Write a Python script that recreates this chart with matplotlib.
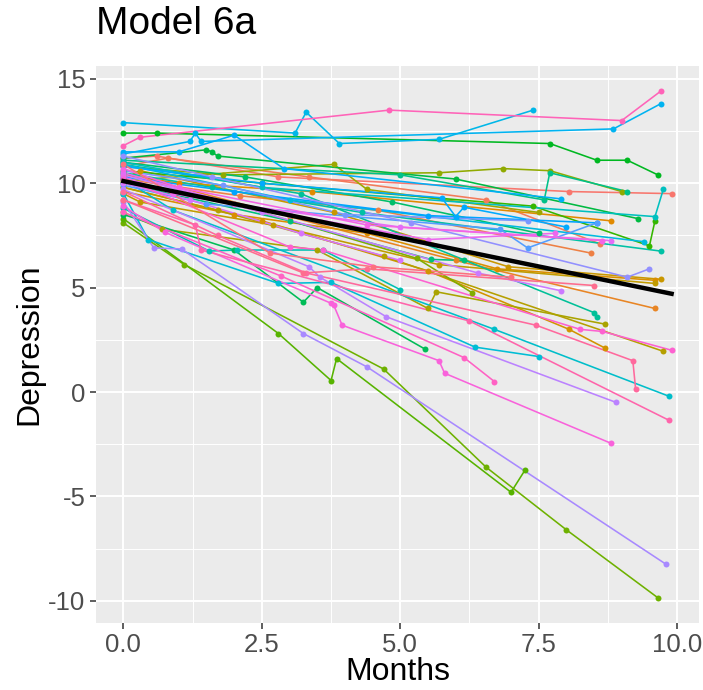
import numpy as np
import matplotlib
matplotlib.use("Agg")
import matplotlib.pyplot as plt

plt.rcParams['font.family'] = ['Liberation Sans', 'DejaVu Sans']

# one list per subject, ordered by colour
months = [
    [0, 0.6, 2.8, 8.05, 9.9],
    [0, 0.8, 3.35, 6.55, 8.6],
    [0, 2.1, 4.6, 8.45],
    [0, 3.0, 6.0, 9.6],
    [0, 1.0, 3.4, 8.8],
    [0, 2.0, 4.4, 6.75, 9.6],
    [0, 2.5, 5.5, 8.05, 8.7],
    [0, 0.3, 3.8, 6.95, 9.7],
    [0, 0.3, 2.7, 5.7, 9.6],
    [0, 1.7, 4.7, 9.75],
    [0, 0.7, 3.5, 5.5, 5.65, 8.7],
    [0, 3.8, 4.4, 7.5],
    [0, 1.8, 5.7, 6.85, 7.7, 9.0],
    [0, 2.0, 5.3, 6.3],
    [0, 1.1, 4.7, 6.55, 8.0, 9.65],
    [0, 2.8, 3.75, 3.85, 7.0, 7.25],
    [0, 2.5, 7.4, 9.5, 9.6],
    [0, 0.6, 7.7, 8.55, 9.1, 9.65],
    [0, 1.5, 1.6, 1.7, 6.0, 9.3],
    [0, 2.0, 3.25, 3.5, 5.45],
    [0, 2.2, 4.85, 7.5],
    [0, 3.0, 5.55, 6.15],
    [0, 5.0, 7.6, 7.7, 9.1],
    [0, 3.2, 8.5, 8.55],
    [0, 1.6, 4.3, 9.7],
    [0, 1.55, 2.05, 3.6, 5.0],
    [0, 2.5, 9.6, 9.75],
    [0, 0.9, 6.7, 9.85],
    [0, 0.45, 2.8, 3.75, 6.35, 7.5],
    [0, 3.0, 9.4],
    [0, 3.1, 3.3, 3.9, 5.7, 7.4],
    [0, 1.2, 1.3, 1.4, 8.85, 9.7],
    [0, 1.0, 2.0, 2.9, 7.9],
    [0, 2.5, 5.75, 6.0, 6.15, 8.0],
    [0, 2.0, 5.5, 8.55],
    [0, 1.5, 6.8, 7.3, 8.55],
    [0, 1.8, 4.0, 7.3],
    [0, 1.6, 5.2, 9.1, 9.5],
    [0, 0.55, 1.05, 3.25, 4.4, 9.8],
    [0, 3.35, 3.55, 4.75, 8.9],
    [0, 2.5, 6.4, 7.9],
    [0, 1.2, 3.2, 5.0],
    [0, 2.0, 5.0, 8.8],
    [0, 0.9, 3.0, 5.5, 7.8],
    [0, 1.0, 4.4, 8.65],
    [0, 0.75, 3.75, 3.8, 3.95, 5.7, 5.8, 8.8],
    [0, 3.0, 3.6, 8.25, 8.65, 9.9],
    [0, 2.85, 6.15, 6.7],
    [0, 0.3, 4.8, 9.0, 9.7],
    [0, 1.3, 1.4, 6.25, 9.85],
    [0, 1.7, 3.3, 7.45, 9.2, 9.25],
    [0, 3.25, 4.4, 8.5],
    [0, 2.65, 4.5, 7.0],
]
depression = [
    [11.2, 11.3, 10.3, 9.6, 9.5],
    [10.8, 11.2, 10.3, 9.2, 7.1],
    [10.2, 9.4, 8.7, 6.65],
    [10.5, 8.4, 6.3, 4.0],
    [10.4, 10.0, 9.6, 8.2],
    [9.6, 8.5, 7.6, 5.9, 5.35],
    [9.8, 8.2, 5.8, 3.0, 2.1],
    [10.2, 10.6, 8.6, 6.0, 5.4],
    [9.5, 9.1, 8.0, 6.1, 5.2],
    [9.8, 8.7, 6.5, 1.95],
    [8.6, 7.8, 6.8, 4.0, 4.8, 3.25],
    [10.1, 10.9, 9.7, 8.6],
    [10.8, 10.4, 10.5, 10.7, 10.6, 9.6],
    [10.0, 9.0, 6.4, 4.75],
    [8.1, 6.1, 1.1, -3.6, -6.6, -9.85],
    [8.3, 2.8, 0.55, 1.6, -4.8, -3.75],
    [10.6, 10.0, 8.9, 7.0, 8.2],
    [12.4, 12.4, 11.9, 11.1, 11.1, 10.4],
    [11.2, 11.6, 11.5, 11.3, 10.2, 8.3],
    [8.5, 6.8, 4.3, 5.0, 2.05],
    [11.0, 10.3, 9.1, 7.6],
    [10.0, 8.2, 6.35, 6.3],
    [11.1, 10.4, 9.2, 10.5, 9.6],
    [10.9, 9.5, 3.8, 3.6],
    [10.5, 9.8, 8.6, 6.75],
    [8.8, 6.75, 6.8, 6.8, 4.9],
    [11.0, 9.8, 8.4, 9.7],
    [10.2, 8.7, 3.0, -0.2],
    [9.5, 7.3, 5.2, 5.25, 2.15, 1.7],
    [10.9, 9.2, 7.2],
    [12.9, 12.4, 13.4, 11.9, 12.1, 13.5],
    [11.4, 12.0, 12.4, 12.0, 12.6, 13.8],
    [11.5, 11.5, 12.3, 10.7, 9.25],
    [10.8, 10.0, 9.3, 8.4, 8.85, 7.9],
    [10.3, 9.6, 8.45, 8.1],
    [9.9, 9.0, 7.8, 6.9, 8.1],
    [10.6, 9.9, 8.5, 8.2],
    [11.3, 10.3, 8.1, 5.5, 5.9],
    [9.1, 6.9, 6.85, 2.8, 1.2, -8.25],
    [9.7, 6.0, 5.5, 3.6, -0.5],
    [10.4, 8.6, 5.7, 4.85],
    [10.0, 9.2, 7.6, 6.3],
    [10.5, 9.0, 7.9, 7.25],
    [10.3, 9.5, 8.5, 7.3, 7.6],
    [10.7, 9.8, 8.0, 7.25],
    [8.9, 7.65, 4.25, 4.15, 3.2, 1.5, 0.9, -2.45],
    [10.2, 6.95, 6.8, 3.0, 2.9, 2.0],
    [8.6, 5.55, 1.65, 0.5],
    [11.8, 12.2, 13.5, 13.0, 14.4],
    [9.2, 8.0, 6.8, 3.4, -1.35],
    [9.6, 7.5, 5.7, 3.2, 1.5, 0.15],
    [9.2, 5.7, 5.9, 5.1],
    [10.9, 6.65, 6.0, 5.5],
]

# fixed effects of the model (average trajectory)
fixed_intercept = 10.1
fixed_slope = -0.545

x_ticks = [0, 2.5, 5, 7.5, 10]
x_labels = ["0.0", "2.5", "5.0", "7.5", "10.0"]
y_ticks = [-10, -5, 0, 5, 10, 15]
y_labels = ["-10", "-5", "0", "5", "10", "15"]


def hue_pal(n, c=100, l=65):
    # ggplot2 default colours: equally spaced hues in HCL
    h = np.deg2rad(np.linspace(15, 375, n + 1)[:-1])
    u, v = c * np.cos(h), c * np.sin(h)
    xn, yn, zn = 95.047, 100.0, 108.883
    un = 4 * xn / (xn + 15 * yn + 3 * zn)
    vn = 9 * yn / (xn + 15 * yn + 3 * zn)
    Y = yn * ((l + 16) / 116) ** 3
    up = u / (13 * l) + un
    vp = v / (13 * l) + vn
    X = Y * 9 * up / (4 * vp)
    Z = Y * (12 - 3 * up - 20 * vp) / (4 * vp)
    xyz = np.stack([X, np.full(n, Y), Z]) / 100
    m = np.array([[3.2404542, -1.5371385, -0.4985314],
                  [-0.9692660, 1.8760108, 0.0415560],
                  [0.0556434, -0.2040259, 1.0572252]])
    rgb = m @ xyz
    rgb = np.where(rgb <= 0.0031308, 12.92 * rgb, 1.055 * np.clip(rgb, 0, None) ** (1 / 2.4) - 0.055)
    return np.clip(rgb.T, 0, 1)


cols = hue_pal(len(months))

fig = plt.figure(figsize=(7.03, 6.9), dpi=100)
ax = fig.add_axes([96 / 703, 1 - 623 / 690, 603 / 703, 557 / 690])
ax.set_facecolor("#EBEBEB")
for s in ax.spines.values():
    s.set_visible(False)

for t, d, c in zip(months, depression, cols):
    ax.plot(t, d, color=c, lw=1.15, zorder=2)
for t, d, c in zip(months, depression, cols):
    ax.plot(t, d, 'o', color=c, ms=4.3, mew=0, zorder=3)

tmax = max(max(t) for t in months)
xx = np.array([0, tmax])
ax.plot(xx, fixed_intercept + fixed_slope * xx, color="black", lw=3.2, zorder=4)

allx = np.concatenate([np.array(t, float) for t in months])
ally = np.concatenate([np.array(d, float) for d in depression])
rx = allx.max() - allx.min()
ry = ally.max() - ally.min()
ax.set_xlim(allx.min() - 0.05 * rx, allx.max() + 0.05 * rx)
ax.set_ylim(ally.min() - 0.05 * ry, ally.max() + 0.05 * ry)

ax.set_xticks(x_ticks)
ax.set_xticklabels(x_labels)
ax.set_yticks(y_ticks)
ax.set_yticklabels(y_labels)
ax.set_xticks([1.25, 3.75, 6.25, 8.75], minor=True)
ax.set_yticks([-7.5, -2.5, 2.5, 7.5, 12.5], minor=True)
ax.grid(which="major", color="white", lw=1.4, zorder=0)
ax.grid(which="minor", color="white", lw=0.7, zorder=0)
ax.set_axisbelow(True)
ax.tick_params(which="major", length=4.5, width=1.1, color="#333333",
               labelsize=18.5, labelcolor="#4D4D4D", pad=3)
ax.tick_params(which="minor", length=0)

ax.set_xlabel("Months", fontsize=23, labelpad=0)
ax.set_ylabel("Depression", fontsize=23, labelpad=3)
fig.text(96 / 703, 1 - 24 / 690, "Model 6a", fontsize=28, ha="left", va="center")

fig.savefig("out.png", dpi=100)
